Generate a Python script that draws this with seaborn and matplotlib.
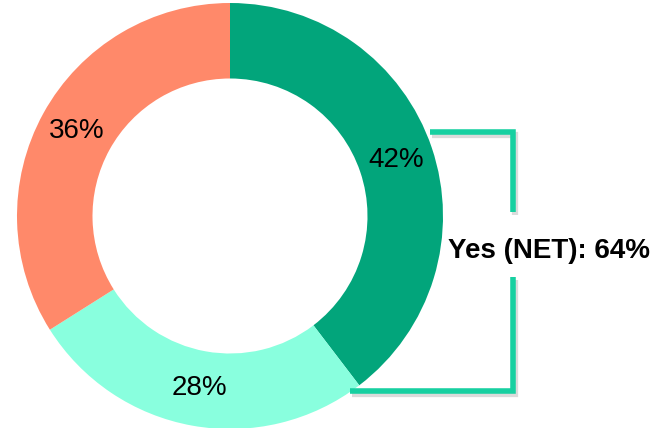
import matplotlib
matplotlib.use("Agg")
import matplotlib.pyplot as plt
import seaborn as sns

# Survey response shares (ring segments, clockwise from 12 o'clock)
categories = ["Yes, definitely", "Yes, probably", "No"]
shares = [42, 28, 36]
segment_colors = ["#02A57B", "#89FFDE", "#FF896A"]

# Combined "yes" figure shown beside the ring
net_label = "Yes (NET)"
net_value = 64

sns.set_theme(style="white")
plt.rcParams["font.family"] = ["Liberation Sans", "DejaVu Sans"]

W, H = 669, 428
fig = plt.figure(figsize=(W / 100, H / 100), dpi=100)
ax = fig.add_axes([0, 0, 1, 1])

cx, cy = 230, 212
r_out, r_in = 213, 137.5
total = sum(shares)

wedges, _, pct_texts = ax.pie(
    shares,
    colors=segment_colors,
    startangle=90,
    counterclock=False,
    radius=r_out,
    center=(cx, cy),
    autopct=lambda p: f"{round(p * total / 100)}%",
    pctdistance=(r_out + r_in) / 2 / r_out,
    wedgeprops=dict(width=r_out - r_in, linewidth=0),
    textprops=dict(fontsize=20, color="black"),
    frame=True,
)

ax.set_xlim(0, W)
ax.set_ylim(0, H)
ax.set_aspect("equal")
ax.axis("off")

# Bracket beside the ring, with a soft drop shadow
bracket_color = "#17D0A1"
top_y, bot_y, br_x = 296, 37, 513
gap_hi, gap_lo = 216, 151
segments = [
    ([430, br_x, br_x], [top_y, top_y, gap_hi]),
    ([br_x, br_x, 350], [gap_lo, bot_y, bot_y]),
]
for xs, ys in segments:
    ax.plot([x + 2 for x in xs], [y - 2.5 for y in ys], color="#9a9a9a",
            lw=4.5, alpha=0.35, solid_capstyle="butt", solid_joinstyle="miter",
            zorder=1)
for xs, ys in segments:
    ax.plot(xs, ys, color=bracket_color, lw=4, solid_capstyle="butt",
            solid_joinstyle="miter", zorder=2)

ax.text(549.5, 170, f"{net_label}: {net_value}%", ha="center", va="baseline",
        fontsize=20, fontweight="bold", color="black")

fig.savefig("out.png", dpi=100, facecolor="white")
